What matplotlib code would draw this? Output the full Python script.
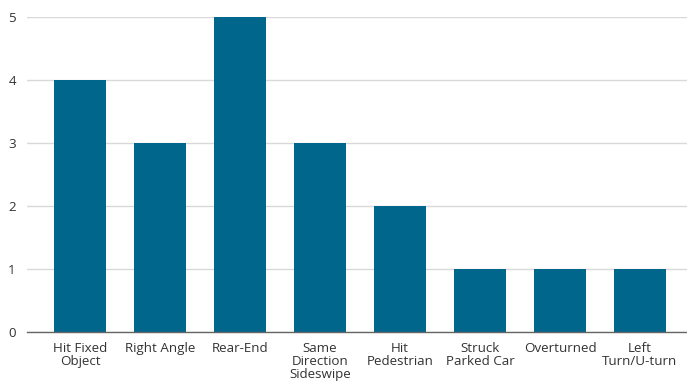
import matplotlib
matplotlib.use("Agg")
import matplotlib.pyplot as plt

categories = ["Hit Fixed\nObject", "Right Angle", "Rear-End", "Same\nDirection\nSideswipe",
              "Hit\nPedestrian", "Struck\nParked Car", "Overturned", "Left\nTurn/U-turn"]
values = [4, 3, 5, 3, 2, 1, 1, 1]
yticks = [0, 1, 2, 3, 4, 5]

plt.rcParams['font.family'] = ['Open Sans', 'DejaVu Sans']

fig = plt.figure(figsize=(6.87, 3.83), dpi=100)
ax = fig.add_axes([27/687, 51/383, 660/687, 315/383])
x = list(range(len(categories)))
ax.bar(x, values, width=0.65, color="#00668c", zorder=3)
ax.set_xlim(-0.6625, 7.5875)
ax.set_ylim(0, 5)
ax.set_yticks(yticks)
ax.set_xticks(x)
ax.set_xticklabels(categories, fontsize=9.6, color="#333333", linespacing=1.0)
ax.tick_params(axis='y', labelsize=9.6, labelcolor="#333333", length=0, pad=8)
ax.tick_params(axis='x', length=0, pad=7)
ax.grid(axis='y', color="#d9d9d9", linewidth=1, zorder=0)
for s in ["top", "right", "left"]:
    ax.spines[s].set_visible(False)
ax.spines["bottom"].set_color("#666666")
ax.spines["bottom"].set_linewidth(1)
ax.spines["bottom"].set_zorder(4)
fig.savefig("out.png", dpi=100)
